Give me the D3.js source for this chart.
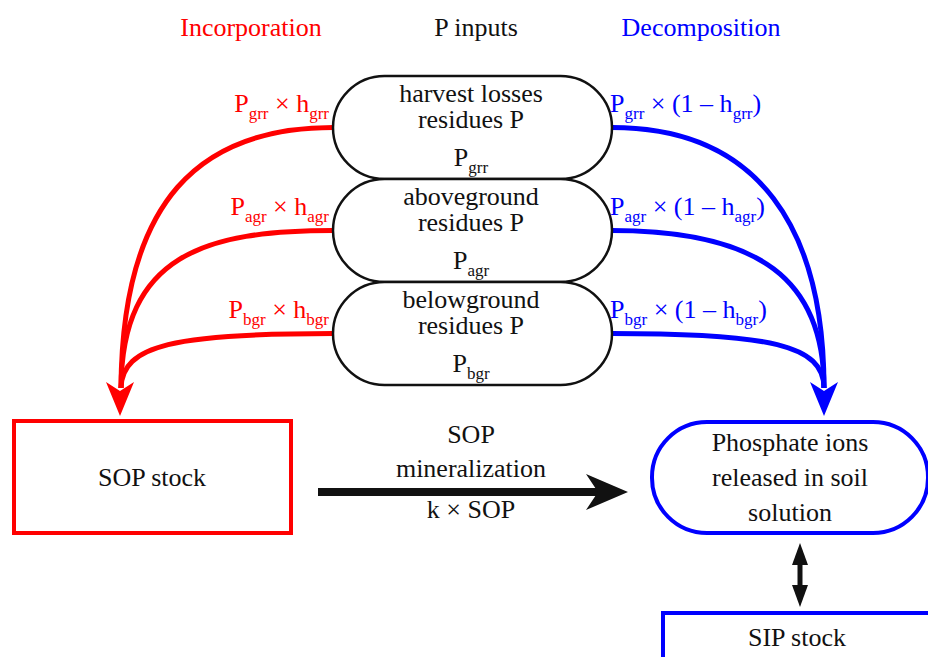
<!DOCTYPE html>
<html>
<head>
<meta charset="utf-8">
<script src="https://cdn.jsdelivr.net/npm/d3@7"></script>
<style>
  body { margin: 0; background: #fff; }
</style>
</head>
<body>
<div id="chart"></div>
<script>
// --- diagram content ---
const headers = ["Incorporation", "P inputs", "Decomposition"];
const headerColors = ["#ff0000", "#111111", "#0000ff"];
const inputs = ["grr", "agr", "bgr"];
const inputLines = [
  ["harvest losses", "residues P"],
  ["aboveground", "residues P"],
  ["belowground", "residues P"]
];
const sopLines = ["SOP stock"];
const fluxLines = ["SOP", "mineralization"];
const fluxRate = "k × SOP";
const ionLines = ["Phosphate ions", "released in soil", "solution"];
const sipLines = ["SIP stock"];

const W = 928, H = 657;
const red = "#ff0000", blue = "#0000ff", ink = "#111111";
const serif = "'Liberation Serif', 'Times New Roman', Times, serif";
const FS = 26, SUB = 17;

const svg = d3.select("#chart").append("svg")
  .attr("width", W).attr("height", H)
  .attr("font-family", serif)
  .style("font-family", serif);

// row positions for the three input pills
const row = d3.scaleBand().domain(inputs).range([76, 385]).padding(0);
const pillL = 333, pillR = 612, cx = 471;

// headers
const hx = d3.scalePoint().domain(headers).range([251, 701]);
svg.selectAll("text.header").data(headers).join("text")
  .attr("class", "header")
  .attr("x", d => hx(d)).attr("y", 36)
  .attr("text-anchor", "middle")
  .attr("font-size", FS)
  .attr("fill", (d, i) => headerColors[i])
  .text(d => d);

// subscript formula helper: 0 = normal, 1 = drop into subscript, -1 = back up
function formula(sel, parts) {
  parts.forEach(([t, sub]) => {
    sel.append("tspan")
      .attr("font-size", sub === 1 ? SUB : FS)
      .attr("dy", sub === 1 ? 7 : sub === -1 ? -7 : 0)
      .text(t);
  });
}

// curves from the pills down to the two arrow tips
const endY = 388;
const shapeL = [[200, 200], [205, 255], [175, 345]];
const shapeR = [[760, 230], [760, 280], [770, 345]];
inputs.forEach((k, i) => {
  const y = row(k) + row.bandwidth() / 2;
  svg.append("path")
    .attr("d", `M${pillL},${y} C${shapeL[i][0]},${y} 122,${shapeL[i][1]} 121,${endY}`)
    .attr("fill", "none").attr("stroke", red).attr("stroke-width", 5);
  svg.append("path")
    .attr("d", `M${pillR},${y} C${shapeR[i][0]},${y} 824,${shapeR[i][1]} 824,${endY}`)
    .attr("fill", "none").attr("stroke", blue).attr("stroke-width", 5);
});

// arrowheads
function head(x, y, color) {
  svg.append("path")
    .attr("d", `M${x},${y} L${x - 14},${y - 34} L${x},${y - 25} L${x + 14},${y - 34} Z`)
    .attr("fill", color);
}
head(120, 416, red);
head(824, 416, blue);

// input pills
inputs.forEach((k, i) => {
  const y0 = row(k), h = row.bandwidth();
  const g = svg.append("g");
  g.append("rect")
    .attr("x", pillL).attr("y", y0)
    .attr("width", pillR - pillL).attr("height", h)
    .attr("rx", h / 2).attr("ry", h / 2)
    .attr("fill", "#fff").attr("stroke", ink).attr("stroke-width", 2.5);
  inputLines[i].forEach((t, j) => {
    g.append("text").attr("x", cx).attr("y", y0 + 26 + j * 26)
      .attr("text-anchor", "middle").attr("font-size", FS).attr("fill", ink).text(t);
  });
  const p = g.append("text").attr("x", cx).attr("y", y0 + 90)
    .attr("text-anchor", "middle").attr("fill", ink);
  formula(p, [["P", 0], [k, 1]]);

  // labels
  const lr = svg.append("text").attr("x", 329).attr("y", y0 + 36)
    .attr("text-anchor", "end").attr("fill", red);
  formula(lr, [["P", 0], [k, 1], [" × h", -1], [k, 1]]);
  const lb = svg.append("text").attr("x", 610).attr("y", y0 + 36)
    .attr("fill", blue);
  formula(lb, [["P", 0], [k, 1], [" × (1 – h", -1], [k, 1], [")", -1]]);
});

// SOP stock box
svg.append("rect").attr("x", 14).attr("y", 421).attr("width", 277).attr("height", 112)
  .attr("fill", "none").attr("stroke", red).attr("stroke-width", 4);
svg.append("text").attr("x", 152).attr("y", 486).attr("text-anchor", "middle")
  .attr("font-size", FS).attr("fill", ink).text(sopLines[0]);

// mineralization arrow
svg.append("line").attr("x1", 318).attr("x2", 600).attr("y1", 492).attr("y2", 492)
  .attr("stroke", ink).attr("stroke-width", 8);
svg.append("path").attr("d", "M628,492 L586,474 L598,492 L586,510 Z").attr("fill", ink);
fluxLines.forEach((t, j) => {
  svg.append("text").attr("x", 471).attr("y", 443 + j * 34).attr("text-anchor", "middle")
    .attr("font-size", FS).attr("fill", ink).text(t);
});
svg.append("text").attr("x", 471).attr("y", 518).attr("text-anchor", "middle")
  .attr("font-size", FS).attr("fill", ink).text(fluxRate);

// phosphate ions pill
svg.append("rect").attr("x", 652).attr("y", 422).attr("width", 276).attr("height", 111)
  .attr("rx", 55).attr("ry", 55)
  .attr("fill", "none").attr("stroke", blue).attr("stroke-width", 4);
ionLines.forEach((t, j) => {
  svg.append("text").attr("x", 790).attr("y", 451 + j * 35).attr("text-anchor", "middle")
    .attr("font-size", FS).attr("fill", ink).text(t);
});

// double arrow
svg.append("line").attr("x1", 800).attr("x2", 800).attr("y1", 560).attr("y2", 592)
  .attr("stroke", ink).attr("stroke-width", 5);
svg.append("path").attr("d", "M800,543 L792,565 L808,565 Z").attr("fill", ink);
svg.append("path").attr("d", "M800,607 L792,585 L808,585 Z").attr("fill", ink);

// SIP stock box
svg.append("rect").attr("x", 663).attr("y", 613).attr("width", 290).attr("height", 80)
  .attr("fill", "none").attr("stroke", blue).attr("stroke-width", 4);
svg.append("text").attr("x", 797).attr("y", 646).attr("text-anchor", "middle")
  .attr("font-size", FS).attr("fill", ink).text(sipLines[0]);
</script>
</body>
</html>
